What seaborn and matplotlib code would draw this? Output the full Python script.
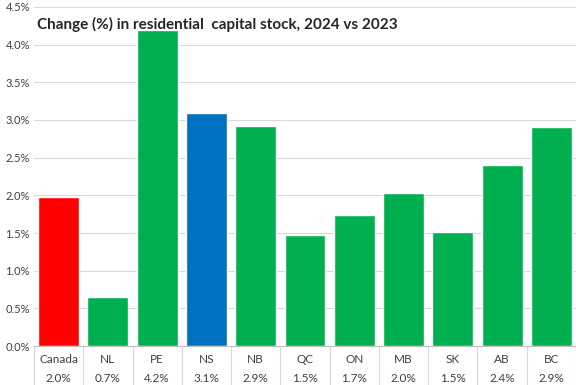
import matplotlib
matplotlib.use("Agg")
import matplotlib.pyplot as plt
import seaborn as sns
import pandas as pd

regions = ["Canada", "NL", "PE", "NS", "NB", "QC", "ON", "MB", "SK", "AB", "BC"]
change = [1.98, 0.65, 4.20, 3.09, 2.92, 1.47, 1.74, 2.03, 1.51, 2.40, 2.91]
labels = ["2.0%", "0.7%", "4.2%", "3.1%", "2.9%", "1.5%", "1.7%", "2.0%", "1.5%", "2.4%", "2.9%"]
colors = ["#FF0000", "#00B050", "#00B050", "#0070C0"] + ["#00B050"] * 7

df = pd.DataFrame({"region": regions, "change": change})

sns.set_style("white")
plt.rcParams["font.family"] = ["Lato", "DejaVu Sans"]

fig = plt.figure(figsize=(5.76, 3.85), dpi=100)
ax = fig.add_axes([0.059, 0.101, 0.941, 0.881])

sns.barplot(data=df, x="region", y="change", hue="region", palette=colors,
            legend=False, width=0.83, saturation=1, ax=ax)

ax.set_xlim(-0.5, len(regions) - 0.5)
ax.set_ylim(0, 4.5)
ax.set_yticks([i * 0.5 for i in range(10)])
ax.set_yticklabels([f"{i * 0.5:.1f}%" for i in range(10)], fontsize=8, color="#404040")
ax.tick_params(axis="y", length=0, pad=3)
ax.set_xticks([])
ax.set_xlabel("")
ax.set_ylabel("")
ax.yaxis.grid(True, color="#D9D9D9", linewidth=0.8)
ax.set_axisbelow(True)
for s in ["top", "right", "left"]:
    ax.spines[s].set_visible(False)
ax.spines["bottom"].set_color("#BFBFBF")

# data table beneath the bars
tr = ax.get_xaxis_transform()
for i, (r, lab) in enumerate(zip(regions, labels)):
    ax.text(i, -0.022, r, transform=tr, ha="center", va="top", fontsize=8.5, color="#404040")
    ax.text(i, -0.08, lab, transform=tr, ha="center", va="top", fontsize=8.5, color="#404040")
for b in range(len(regions) + 1):
    ax.plot([b - 0.5, b - 0.5], [0, -0.12], transform=tr, color="#D9D9D9",
            linewidth=0.8, clip_on=False)

ax.text(0.006, 0.97, "Change (%) in residential  capital stock, 2024 vs 2023",
        transform=ax.transAxes, ha="left", va="top", fontsize=11, fontweight="bold")

fig.savefig("out.png", dpi=100)
